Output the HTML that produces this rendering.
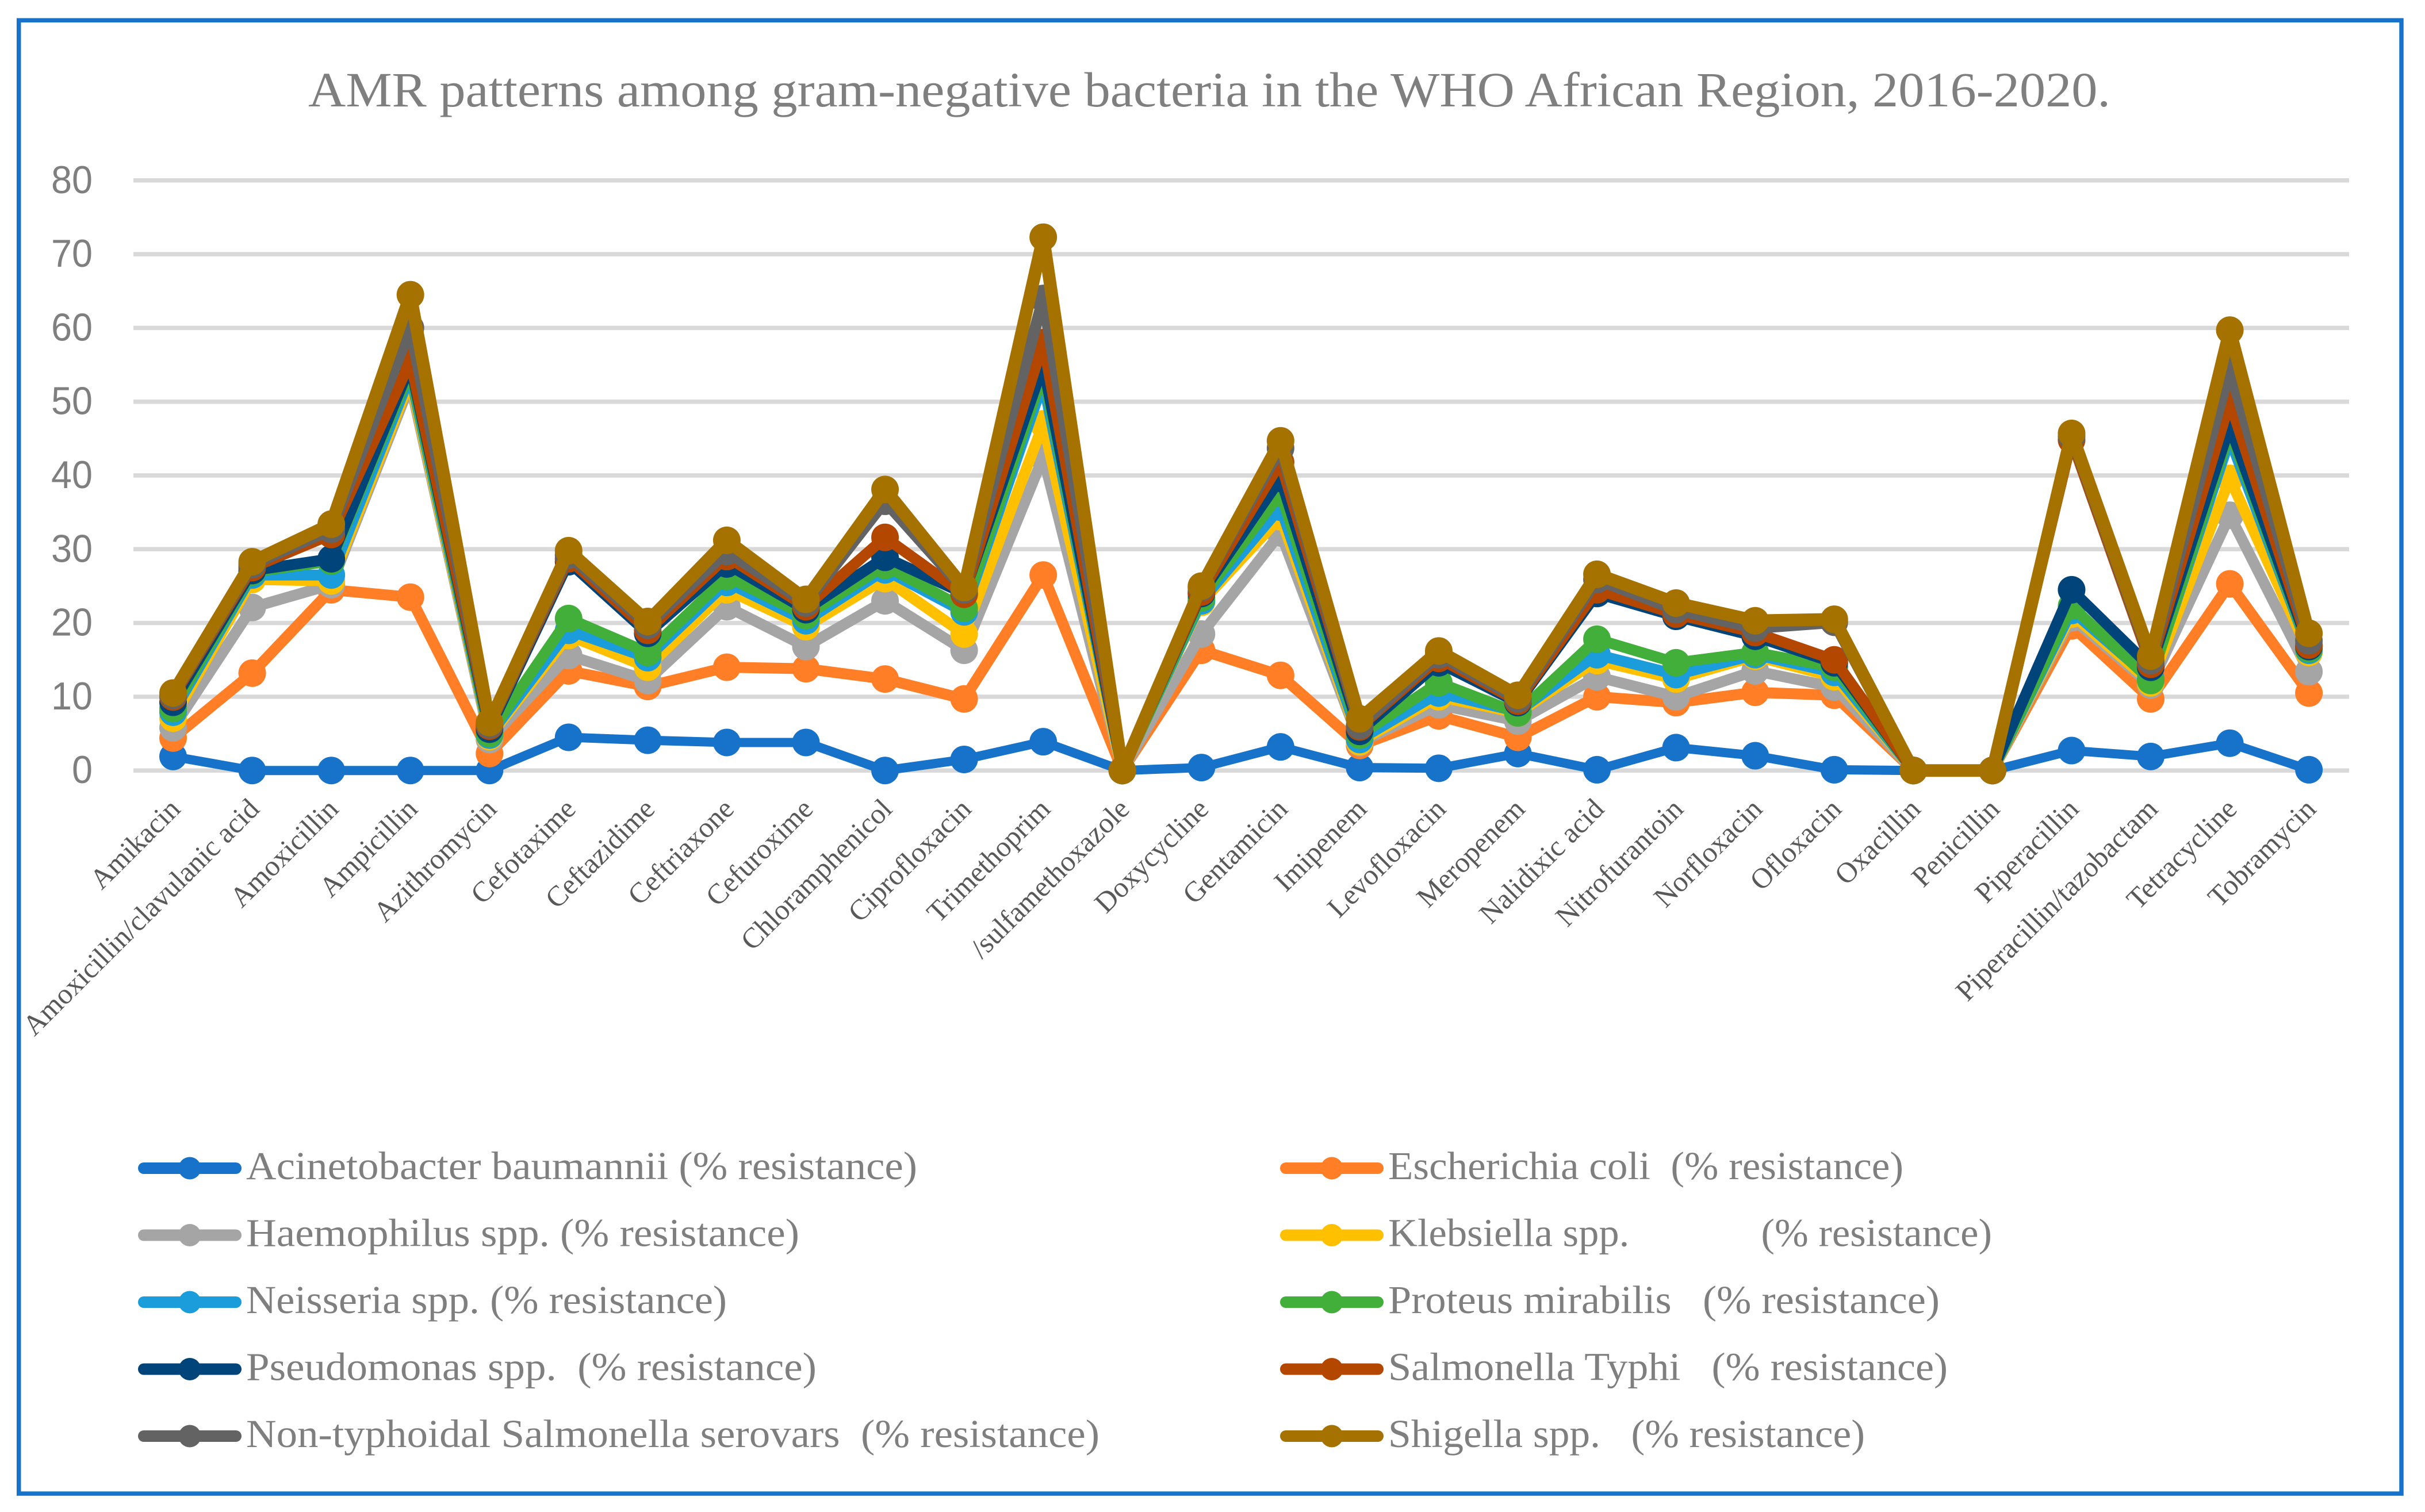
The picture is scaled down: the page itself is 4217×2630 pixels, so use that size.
<!DOCTYPE html>
<html lang="en">
<head>
<meta charset="utf-8">
<title>AMR patterns among gram-negative bacteria</title>
<style>
html,body{margin:0;padding:0;background:#fff;}
svg{display:block;}
text{white-space:pre;}
</style>
</head>
<body>
<svg id="chart" xmlns="http://www.w3.org/2000/svg" width="4217" height="2630" viewBox="0 0 4217 2630">
<rect x="0" y="0" width="4217" height="2630" fill="#ffffff"/>
<rect x="32.7" y="35.3" width="4143.3" height="2562.7" fill="none" stroke="#1772C9" stroke-width="7.5"/>
<text x="536" y="185" font-family="'Liberation Serif',serif" font-size="86" fill="#7F7F7F" textLength="3134" lengthAdjust="spacingAndGlyphs">AMR patterns among gram-negative bacteria in the WHO African Region, 2016-2020.</text>
<g id="grid"></g>
<g id="yaxis"></g>
<g id="xaxis"></g>
<g id="plot"></g>
<g id="legend"></g>
</svg>
<script>
const categories = ["Amikacin","Amoxicillin/clavulanic acid","Amoxicillin","Ampicillin","Azithromycin","Cefotaxime","Ceftazidime","Ceftriaxone","Cefuroxime","Chloramphenicol","Ciprofloxacin","Trimethoprim","/sulfamethoxazole","Doxycycline","Gentamicin","Imipenem","Levofloxacin","Meropenem","Nalidixic acid","Nitrofurantoin","Norfloxacin","Ofloxacin","Oxacillin","Penicillin","Piperacillin","Piperacillin/tazobactam","Tetracycline","Tobramycin"];
const yTicks = [0,10,20,30,40,50,60,70,80];

const acinetobacter = [1.9,0,0,0,0,4.5,4.1,3.8,3.8,0,1.5,3.9,0,0.4,3.2,0.4,0.3,2.3,0.1,3.1,2,0.1,0,0,2.7,1.9,3.7,0.1];
const escherichia = [4.4,13.2,24.5,23.5,2.3,13.5,11.4,14,13.8,12.4,9.7,26.5,0,16.3,12.9,3.4,7.4,4.5,10,9.2,10.6,10.2,0,0,19.6,9.7,25.3,10.5];
const haemophilus = [5.8,22.1,25.2,52.5,4.2,15.6,12.2,22.2,16.8,23,16.3,42.5,0,18.5,32.2,3.8,8.9,6.7,12.7,10,13.5,11.3,0,0,20.7,11.6,34.6,13.4];
const klebsiella = [7.1,25.9,25.7,53,4.6,18.3,14,24.5,19.5,26,18.5,47,0,22.8,34.4,3.9,10,7.8,14.9,12.4,15.5,12.7,0,0,21.2,11.9,39.6,16];
const neisseria = [7.9,26.5,26.5,53.7,4.8,19,15.3,25.5,20.3,27.2,21.5,52.7,0,23,35.7,4.2,10.5,8,15.7,13,15.7,13.3,0,0,21.7,12.4,45,16.3];
const proteus = [8.4,26.9,28.4,54.3,5,20.6,16,26.3,21,27.8,22,54,0,23.4,37.6,4.8,11.9,7.8,17.8,14.6,16,14,0,0,22.3,12.2,46,16.5];
const pseudomonas = [9.25,27.1,28.7,55,5.6,28.3,18.6,28,21.8,28.9,24,55,0,24,39.6,5.3,14.6,9.2,24,20.9,18.2,14.6,0,0,24.5,14,46.7,16.8];
const salmonellaTyphi = [9.96,27.5,32,55.5,6,28.7,19,29,22.2,31.6,23.9,58,0,24.2,41.8,5.9,15.2,9.4,24.5,21.2,18.7,15,0,0,44.8,14.4,50,17];
const nonTyphoidal = [10.2,27.9,32.7,60,6.2,29.2,19.7,29.7,22.7,36.5,24.5,64,0,24.8,43.7,6.1,15.7,9.7,25.9,21.8,19.3,20.1,0,0,45.3,14.9,54.5,17.6];
const shigella = [10.5,28.3,33.4,64.5,6.5,29.8,20.2,31.2,23.2,38.1,24.8,72.3,0,25,44.7,7,16.2,10.2,26.6,22.7,20.3,20.5,0,0,45.7,15.5,59.7,18.6];

const seriesNames = ["Acinetobacter baumannii (% resistance)","Escherichia coli  (% resistance)","Haemophilus spp. (% resistance)","Klebsiella spp.             (% resistance)","Neisseria spp. (% resistance)","Proteus mirabilis   (% resistance)","Pseudomonas spp.  (% resistance)","Salmonella Typhi   (% resistance)","Non-typhoidal Salmonella serovars  (% resistance)","Shigella spp.   (% resistance)"];
const seriesKeys = ["acinetobacter","escherichia","haemophilus","klebsiella","neisseria","proteus","pseudomonas","salmonella-typhi","non-typhoidal-salmonella","shigella"];
const seriesColors = ["#1772C9","#FF7E26","#A5A5A5","#FFC000","#1C9DDB","#43AF3B","#004479","#B44700","#636363","#A57200"];
const seriesStroke = [16,19,19,19,19,19,19,19,20,22];
const seriesValues = [acinetobacter,escherichia,haemophilus,klebsiella,neisseria,proteus,pseudomonas,salmonellaTyphi,nonTyphoidal,shigella];

const NS = "http://www.w3.org/2000/svg";
const xFirst = 301, xStep = 137.56, yZero = 1340.2, yPerUnit = 12.83;
function xScale(i){ return xFirst + i * xStep; }
function yScale(v){ return yZero - v * yPerUnit; }
function make(tag, attrs, parent){
  const el = document.createElementNS(NS, tag);
  for (const k in attrs) el.setAttribute(k, attrs[k]);
  parent.appendChild(el);
  return el;
}

const gridG = document.getElementById("grid");
const yG = document.getElementById("yaxis");
yTicks.forEach(function(t){
  const line = make("line", {x1:232, x2:4085, y1:yScale(t), y2:yScale(t), stroke:"#D9D9D9", "stroke-width":7.5}, gridG);
  
  
  const s = String(t);
  const label = make("text", {x:161, y:yScale(t)+22, "text-anchor":"end", "font-family":"'Liberation Sans',sans-serif", "font-size":68, fill:"#7F7F7F", textLength:s.length*36, lengthAdjust:"spacingAndGlyphs"}, yG);
  
  
  label.textContent = s;
});

const xG = document.getElementById("xaxis");
categories.forEach(function(c, i){
  const ax = xScale(i) + 15, ay = 1410;
  const label = make("text", {x:ax, y:ay, "text-anchor":"end", transform:"rotate(-45 "+ax+" "+ay+")", "font-family":"'Liberation Serif',serif", "font-size":50, fill:"#595959"}, xG);
  
  
  label.textContent = c;
});

const plotG = document.getElementById("plot");
seriesValues.forEach(function(vals, s){
  const g = make("g", {}, plotG);
  
  
  const pts = vals.map(function(v, i){ return xScale(i) + "," + yScale(v); }).join(" ");
  const line = make("polyline", {points:pts, fill:"none", stroke:seriesColors[s], "stroke-width":seriesStroke[s], "stroke-linejoin":"round", "stroke-linecap":"round"}, g);
  
  
  vals.forEach(function(v, i){
    const m = make("circle", {cx:xScale(i), cy:yScale(v), r:24, fill:seriesColors[s]}, g);
    
    
  });
});

const legendG = document.getElementById("legend");
const legendRight = [1595,3310,1390,3464,1264,3373,1420,3387,1912,3243];
seriesNames.forEach(function(name, s){
  const col = s % 2, row = Math.floor(s / 2);
  const off = col * 1986;
  const cy = 2032 + row * 116.5;
  const g = make("g", {}, legendG);
  
  
  const ln = make("line", {x1:250+off, x2:410+off, y1:cy, y2:cy, stroke:seriesColors[s], "stroke-width":20, "stroke-linecap":"round"}, g);
  
  
  const mk = make("circle", {cx:330+off, cy:cy, r:19.5, fill:seriesColors[s]}, g);
  
  
  const startX = 428 + off;
  const tx = make("text", {x:startX, y:cy+19, "font-family":"'Liberation Serif',serif", "font-size":69, fill:"#7F7F7F", "xml:space":"preserve", textLength:legendRight[s]-startX, lengthAdjust:"spacingAndGlyphs"}, g);
  
  
  tx.textContent = name;
});
</script>
</body>
</html>
